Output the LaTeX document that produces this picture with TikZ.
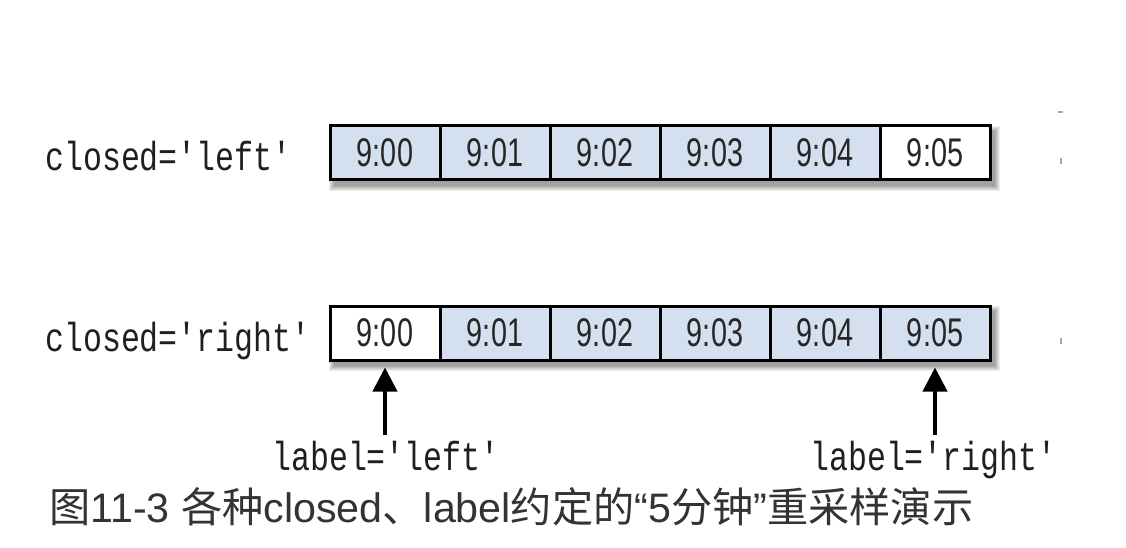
\documentclass[tikz,border=0pt]{standalone}
\usepackage{fontspec}
\usetikzlibrary{arrows.meta}
\newfontfamily\cjk{Noto Sans CJK SC}
\newfontfamily\capl{Liberation Sans}
\newfontfamily\cellfont[FakeStretch=0.72]{Liberation Sans}
\newfontfamily\codefont[FakeStretch=0.78]{Liberation Mono}
\definecolor{cellblue}{HTML}{D4E0EF}
\definecolor{captiongray}{HTML}{333333}
\tikzset{
  cellbox/.style={draw=black, line width=3pt, minimum width=110pt, minimum height=54pt,
    inner sep=0pt, font=\cellfont\fontsize{40}{40}\selectfont, text=black!85},
  bluecell/.style={cellbox, fill=cellblue},
  whitecell/.style={cellbox, fill=white},
  codetext/.style={anchor=base west, inner sep=0pt, font=\codefont\fontsize{40.5}{40.5}\selectfont, text=black!88},
  arr/.style={line width=4pt, -{Triangle[width=24pt,length=24pt]}},
  shadowlayer/.style={fill=black, opacity=0.07},
  speck/.style={draw=black!35, line width=1.5pt}
}
\begin{document}
\begin{tikzpicture}[x=1pt,y=-1pt]
\useasboundingbox (0,0) rectangle (1126,548);
\fill[white] (0,0) rectangle (1126,548);
% shadows
\foreach \k in {0,1,2,3,4,5}{
  \fill[shadowlayer] (334-\k,131-\k) rectangle (995+\k,186+\k);
  \fill[shadowlayer] (334-\k,311-\k) rectangle (995+\k,366+\k);
}
% row 1: closed='left'
\node[bluecell]  (a0) at (385,153) {9:00};
\node[bluecell]  (a1) at (495,153) {9:01};
\node[bluecell]  (a2) at (605,153) {9:02};
\node[bluecell]  (a3) at (715,153) {9:03};
\node[bluecell]  (a4) at (825,153) {9:04};
\node[whitecell] (a5) at (935,153) {9:05};
% row 2: closed='right'
\node[whitecell] (b0) at (385,333) {9:00};
\node[bluecell]  (b1) at (495,333) {9:01};
\node[bluecell]  (b2) at (605,333) {9:02};
\node[bluecell]  (b3) at (715,333) {9:03};
\node[bluecell]  (b4) at (825,333) {9:04};
\node[bluecell]  (b5) at (935,333) {9:05};
% row labels
\node[codetext] (cl) at (45,171) {closed='left'};
\node[codetext] (cr) at (45,351) {closed='right'};
% bottom labels
\node[codetext] (ll) at (272,470) {label='left'};
\node[codetext] (lr) at (810,470) {label='right'};
% arrows
\coordinate (tl) at (385,435);
\coordinate (tr) at (935,435);
\draw[arr, shorten >=6pt] (tl) -- (b0.south);
\draw[arr, shorten >=6pt] (tr) -- (b5.south);
% faint specks at right edge
\draw[speck] (1058,112) -- (1063,112);
\draw[speck] (1061,158) -- (1061,164);
\draw[speck] (1061,338) -- (1061,344);
% caption
\node[anchor=base west, inner sep=0pt, text=captiongray, font=\cjk\fontsize{41.2}{41.2}\selectfont] (cap) at (49,522) {图{\capl 11-3 }各种{\capl closed}、{\capl label}约定的{\capl “5}分钟{\capl ”}重采样演示};
\end{tikzpicture}
\end{document}
